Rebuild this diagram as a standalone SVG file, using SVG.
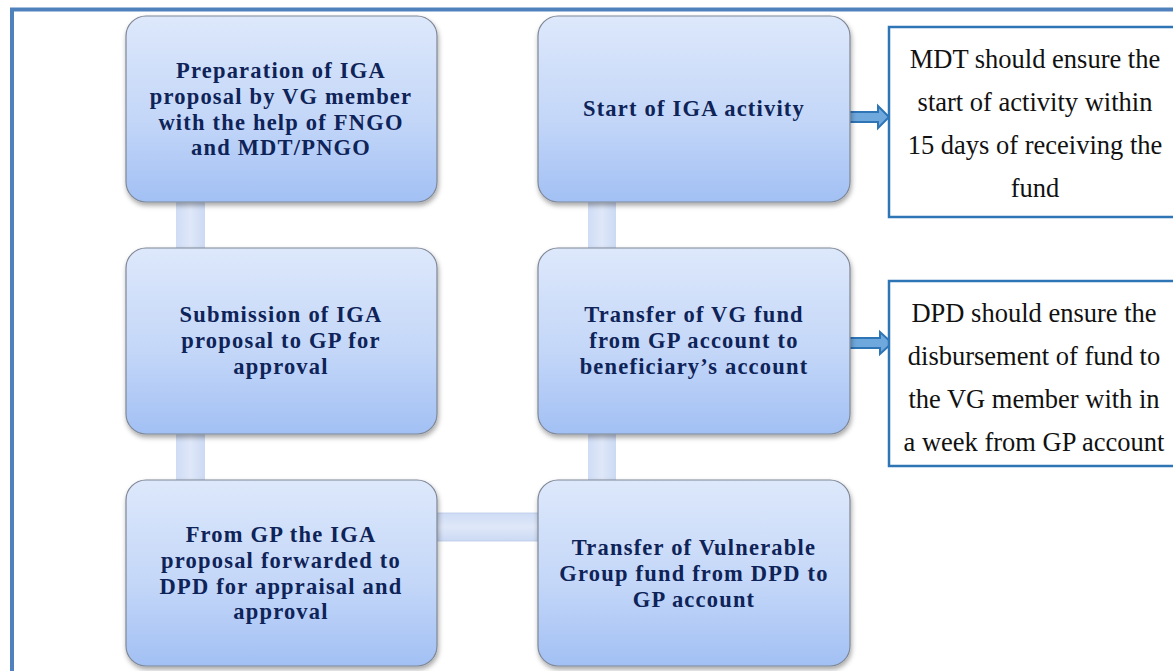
<svg xmlns="http://www.w3.org/2000/svg" width="1173" height="671" viewBox="0 0 1173 671">
<defs>
<linearGradient id="ng" x1="0" y1="0" x2="0" y2="1">
<stop offset="0" stop-color="#dde8fb"/>
<stop offset="0.55" stop-color="#c4d7f8"/>
<stop offset="1" stop-color="#a2c0f4"/>
</linearGradient>
<linearGradient id="cv" x1="0" y1="0" x2="1" y2="0">
<stop offset="0" stop-color="#cfdcf5"/>
<stop offset="0.5" stop-color="#dfe8f9"/>
<stop offset="1" stop-color="#cbd9f3"/>
</linearGradient>
<linearGradient id="ch" x1="0" y1="0" x2="0" y2="1">
<stop offset="0" stop-color="#cfdcf5"/>
<stop offset="0.5" stop-color="#dfe8f9"/>
<stop offset="1" stop-color="#cbd9f3"/>
</linearGradient>
<filter id="sh" x="-10%" y="-10%" width="125%" height="130%">
<feDropShadow dx="1" dy="3" stdDeviation="2.5" flood-color="#000" flood-opacity="0.35"/>
</filter>
</defs>
<style>
.node{fill:url(#ng);stroke:#7f8796;stroke-width:1.2;filter:url(#sh)}
.nt{font-family:"Liberation Serif","Times New Roman",serif;font-weight:bold;font-size:22.5px;letter-spacing:1.2px;fill:#0e2358;text-anchor:middle}
.side{fill:#fff;stroke:#2e75b6;stroke-width:2.5}
.st{font-family:"Liberation Serif","Times New Roman",serif;font-size:26.5px;fill:#111;text-anchor:middle}
.arr{fill:#6fa8dc;stroke:#2e75b6;stroke-width:2}
</style>
<rect x="0" y="0" width="1173" height="671" fill="#fff"/>
<rect x="12" y="9.5" width="1200" height="700" fill="none" stroke="#4f81bd" stroke-width="4"/>
<g id="connectors">
<rect x="176" y="200" width="29" height="50" fill="url(#cv)"/>
<rect x="176" y="432" width="29" height="50" fill="url(#cv)"/>
<rect x="588" y="200" width="28" height="50" fill="url(#cv)"/>
<rect x="588" y="432" width="28" height="50" fill="url(#cv)"/>
<rect x="435" y="513" width="105" height="28" fill="url(#ch)" stroke="#b9c8e6" stroke-width="0.8"/>
<path class="arr" d="M845,112 H878 V106 L889,117 L878,128 V122 H845 Z"/>
<path class="arr" d="M847,338 H880 V332 L892,343 L880,354 V348 H847 Z"/>
</g>
<g id="n1">
<rect class="node" x="126" y="16" width="311" height="186" rx="20"/>
<text class="nt"><tspan x="281" y="78">Preparation of IGA</tspan><tspan x="281" y="104">proposal by VG member</tspan><tspan x="281" y="130">with the help of FNGO</tspan><tspan x="281" y="155">and MDT/PNGO</tspan></text>
</g>
<g id="n2">
<rect class="node" x="538" y="16" width="312" height="186" rx="20"/>
<text class="nt" x="694" y="116">Start of IGA activity</text>
</g>
<g id="n3">
<rect class="node" x="126" y="248" width="311" height="186" rx="20"/>
<text class="nt"><tspan x="281" y="322">Submission of IGA</tspan><tspan x="281" y="348">proposal to GP for</tspan><tspan x="281" y="374">approval</tspan></text>
</g>
<g id="n4">
<rect class="node" x="538" y="248" width="312" height="186" rx="20"/>
<text class="nt"><tspan x="694" y="322">Transfer of VG fund</tspan><tspan x="694" y="348">from GP account to</tspan><tspan x="694" y="374">beneficiary’s account</tspan></text>
</g>
<g id="n5">
<rect class="node" x="126" y="480" width="311" height="186" rx="20"/>
<text class="nt"><tspan x="281" y="542">From GP the IGA</tspan><tspan x="281" y="568">proposal forwarded to</tspan><tspan x="281" y="594">DPD for appraisal and</tspan><tspan x="281" y="619">approval</tspan></text>
</g>
<g id="n6">
<rect class="node" x="538" y="480" width="312" height="186" rx="20"/>
<text class="nt"><tspan x="694" y="555">Transfer of Vulnerable</tspan><tspan x="694" y="581">Group fund from DPD to</tspan><tspan x="694" y="607">GP account</tspan></text>
</g>
<g id="noteA">
<rect class="side" x="889" y="27" width="300" height="190"/>
<text class="st"><tspan x="1035" y="68">MDT should ensure the</tspan><tspan x="1035" y="111">start of activity within</tspan><tspan x="1035" y="154">15 days of receiving the</tspan><tspan x="1035" y="197">fund</tspan></text>
</g>
<g id="noteB">
<rect class="side" x="889" y="281" width="300" height="185"/>
<text class="st"><tspan x="1034" y="322">DPD should ensure the</tspan><tspan x="1034" y="365">disbursement of fund to</tspan><tspan x="1034" y="408">the VG member with in</tspan><tspan x="1034" y="451">a week from GP account</tspan></text>
</g>
</svg>
